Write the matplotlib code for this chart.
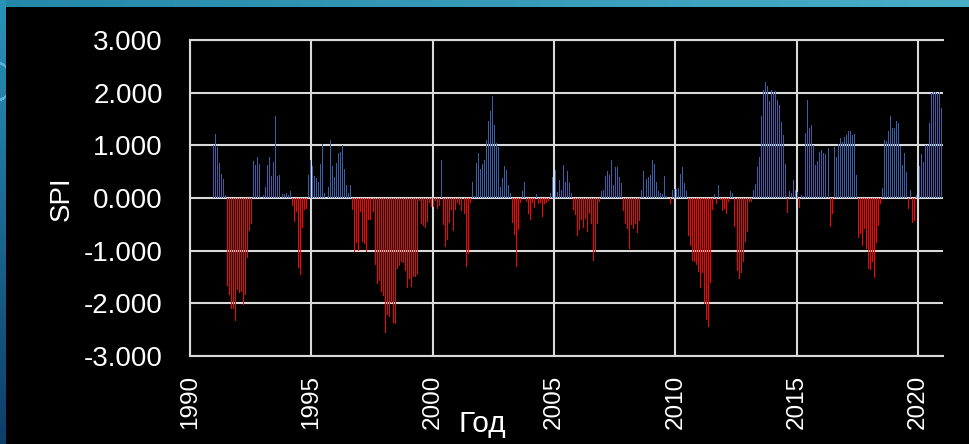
import numpy as np
import pandas as pd
import matplotlib
matplotlib.use("Agg")
import matplotlib.pyplot as plt

plt.rcParams['font.family'] = ['Liberation Sans', 'DejaVu Sans']

# ---------------- data ----------------
start_month = "1990-12"
spi = [
    1.00,                                                                    # 1990-12
    1.21, 0.97, 0.67, 0.45, 0.37, 0.05, -1.68, -1.85, -2.10, -2.10, -2.34, -1.75,   # 1991
    -1.80, -1.78, -2.04, -1.85, -1.14, -0.63, -0.49, 0.70, 0.63, 0.77, 0.65, 0.00,  # 1992
    0.05, 0.20, 0.62, 0.77, 0.41, 0.68, 1.55, 0.41, 0.44, 0.08, 0.08, 0.10,         # 1993
    0.06, 0.14, -0.15, -0.46, -0.27, -1.32, -1.47, -0.57, -0.22, -0.20, 0.43, 0.72, # 1994
    0.60, 0.41, 0.38, 0.30, 0.64, 1.02, 0.10, 0.00, 0.21, 1.11, 0.60, 0.40,         # 1995
    0.66, 0.85, 0.87, 1.00, 0.55, 0.24, 0.10, 0.25, -0.22, -1.03, -0.85, -1.00,     # 1996
    -0.27, -0.84, -0.88, -1.03, -0.42, -0.42, -0.27, -1.28, -1.63, -1.58, -1.78, -1.86,  # 1997
    -2.56, -2.23, -2.26, -2.00, -2.37, -2.40, -1.35, -1.29, -1.22, -1.23, -1.39, -1.71,  # 1998
    -1.53, -1.69, -1.50, -1.50, -1.47, -0.05, -0.50, -0.53, -0.57, -0.46, -0.09, -0.17,  # 1999
    -0.17, -0.05, -0.20, -0.15, 0.73, -0.51, -0.93, -0.80, -0.47, -0.22, -0.63, -0.22,   # 2000
    -0.09, -0.13, -0.25, -0.30, -1.31, -1.06, -0.09, 0.30, 0.03, 0.66, 0.85, 0.55,       # 2001
    0.65, 0.72, 1.11, 1.47, 1.66, 1.93, 1.38, 1.04, 0.97, 0.20, 0.38, 0.61,              # 2002
    0.53, 0.24, 0.09, -0.47, -0.71, -1.31, -0.60, -0.09, 0.13, 0.30, -0.08, -0.30,       # 2003
    -0.41, -0.10, -0.19, 0.08, -0.12, -0.10, -0.36, -0.12, -0.09, -0.06, 0.10, 0.39,     # 2004
    0.54, 0.11, 0.34, 0.16, 0.63, 0.30, 0.51, 0.28, 0.10, -0.23, -0.33, -0.73,           # 2005
    -0.61, -0.41, -0.57, -0.39, -0.65, -0.30, -0.50, -1.20, -1.03, -0.50, -0.08, 0.13,   # 2006
    0.15, 0.41, 0.51, 0.43, 0.72, 0.25, 0.59, 0.59, 0.40, 0.28, -0.25, -0.49,            # 2007
    -0.58, -0.97, -0.52, -0.58, -0.49, -0.66, -0.44, 0.15, 0.51, 0.37, 0.40, 0.43,       # 2008
    0.73, 0.64, 0.30, 0.13, 0.10, 0.08, 0.41, 0.03, 0.00, -0.11, 0.15, 0.18,             # 2009
    0.18, 0.19, 0.46, 0.59, 0.28, 0.13, -0.72, -0.91, -1.20, -1.22, -1.28, -1.41,        # 2010
    -1.71, -1.42, -2.02, -2.31, -2.45, -1.61, -0.22, 0.07, -0.11, 0.25, -0.03, -0.25,    # 2011
    -0.20, -0.31, -0.08, 0.13, 0.10, -0.55, -1.39, -1.53, -1.42, -1.22, -0.84, -0.65,    # 2012
    -0.08, -0.08, 0.15, 0.26, 0.59, 0.77, 1.55, 2.06, 2.20, 2.12, 1.85, 2.06,            # 2013
    2.01, 2.04, 1.87, 1.76, 1.44, 1.19, 0.65, -0.28, 0.13, 0.09, 0.35, 0.15,             # 2014
    0.11, -0.19, 0.05, 0.03, 1.23, 1.87, 1.33, 1.39, 1.00, 0.63, 0.70, 0.87,             # 2015
    0.92, 0.85, 0.84, 0.94, -0.55, -0.30, 0.96, 0.78, 1.03, 1.13, 1.06, 1.16,            # 2016
    1.19, 1.27, 1.27, 1.19, 1.21, 0.44, -0.76, -0.69, -0.91, -0.58, -0.97, -1.34,        # 2017
    -1.36, -1.22, -1.51, -0.85, -0.54, -0.12, 0.19, 1.11, 1.09, 1.28, 1.55, 1.32,        # 2018
    1.32, 1.47, 1.42, 0.98, 0.62, 0.85, 0.49, -0.20, 0.15, -0.47, -0.44, 0.05,           # 2019
    0.60, 0.84, 0.68, 1.00, 1.00, 1.42, 1.99, 2.01, 2.01, 1.99, 2.01, 1.71,              # 2020
]
year_ticks = [1990, 1995, 2000, 2005, 2010, 2015, 2020]
spi_ticks = [-3, -2, -1, 0, 1, 2, 3]
y_label = "SPI"
x_label = "Год"

# ---------------- figure ----------------
W, H = 970, 444
fig = plt.figure(figsize=(W / 100, H / 100), dpi=100)

# slide-like background
bg = np.zeros((H, W, 3))
xs = np.linspace(0, 1, W)[None, :, None]
top_l = np.array([0.14, 0.53, 0.66]); top_r = np.array([0.29, 0.68, 0.78])
bg[:8] = top_l + (top_r - top_l) * xs
ys = np.linspace(0, 1, H)[:, None, None]
lt = np.array([0.16, 0.58, 0.72]); lb = np.array([0.05, 0.24, 0.42])
bg[:, :6] = (lt + (lb - lt) * ys).repeat(6, axis=1)
yy, xx = np.mgrid[0:H, 0:6]
ring = np.abs(np.hypot(xx + 8, yy - 82) - 20) < 1.3
bg[:, :6][ring] = [0.35, 0.70, 0.88]
ax_bg = fig.add_axes([0, 0, 1, 1], zorder=-10)
ax_bg.imshow(bg, aspect='auto', interpolation='nearest')
ax_bg.axis('off')

L, R, T, B = 190, 943, 40, 356
ax = fig.add_axes([L / W, 1 - B / H, (R - L) / W, (B - T) / H])
ax.set_facecolor('none')

dates = pd.period_range(start_month, periods=len(spi), freq='M')
xpos = np.asarray(dates.year + (dates.month - 0.5) / 12.0, dtype=float)
vals = np.asarray(spi, dtype=float)
colors = np.where(vals < 0, '#FF0000', '#3B5EA6')

ax.bar(xpos, vals, width=1 / 24, color=list(colors), linewidth=0,
       antialiased=False, zorder=3)

ax.set_xlim(1990, 2021.03)
ax.set_ylim(-3, 3)
ax.set_xticks(year_ticks)
ax.set_xticklabels([str(y) for y in year_ticks], rotation=90, fontsize=17.5)
ax.set_yticks(spi_ticks)
ax.set_yticklabels([f"{v:.3f}" for v in spi_ticks], fontsize=20)
ax.tick_params(axis='both', length=0, colors='white')
ax.tick_params(axis='y', pad=19.5)
ax.tick_params(axis='x', pad=13.5)
ax.grid(True, color='#D9D9D9', linewidth=1.5, zorder=1)
ax.set_axisbelow(True)
for s in ['left', 'bottom', 'top']:
    ax.spines[s].set_color('#D9D9D9')
    ax.spines[s].set_linewidth(1.5)
ax.spines['right'].set_visible(False)

fig.text(61.5 / W, 1 - 198.5 / H, y_label, rotation=90, ha='center', va='center',
         fontsize=20, color='white')
fig.text(482 / W, 12.3 / H, x_label, ha='center', va='baseline',
         fontsize=21.5, color='white')

fig.savefig('out.png', dpi=100)
